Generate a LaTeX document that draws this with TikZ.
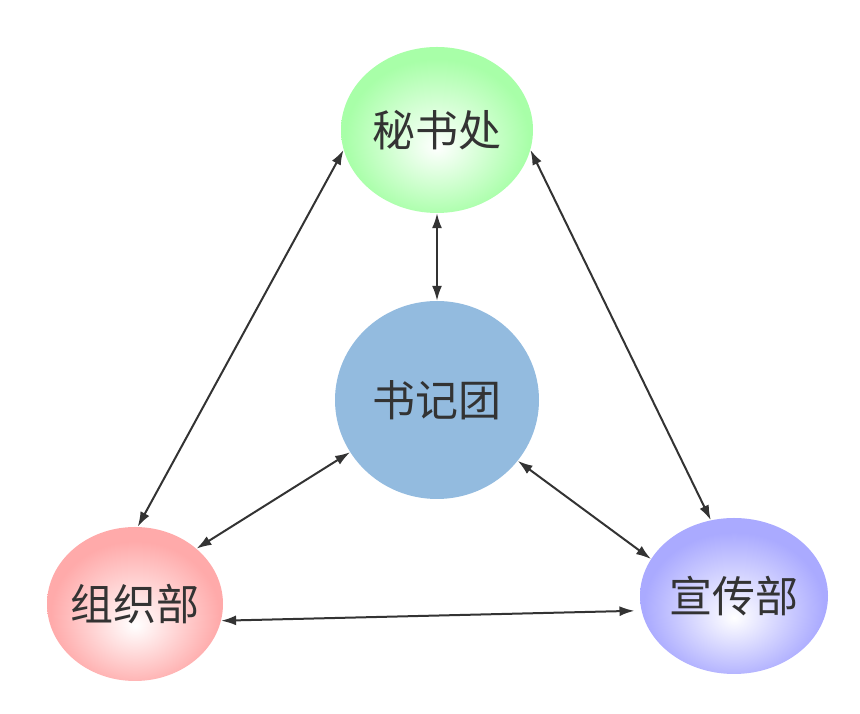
\documentclass[tikz,border=0pt]{standalone}
\usepackage{fontspec}
\newfontfamily\cjk{Noto Sans CJK SC}
\usetikzlibrary{shapes.geometric,arrows.meta}
\definecolor{txt}{HTML}{333333}
\definecolor{gedge}{HTML}{A8FFA8}
\definecolor{redge}{HTML}{FFAAAA}
\definecolor{bedge}{HTML}{AAAAFF}
\definecolor{jblue}{HTML}{93BBDF}
\pgfdeclareradialshading{gshade}{\pgfpoint{0bp}{-5bp}}{color(0bp)=(white); color(24bp)=(gedge); color(50bp)=(gedge)}
\pgfdeclareradialshading{rshade}{\pgfpoint{0bp}{-7bp}}{color(0bp)=(white); color(24bp)=(redge); color(50bp)=(redge)}
\pgfdeclareradialshading{bshade}{\pgfpoint{0bp}{-7bp}}{color(0bp)=(white); color(24bp)=(bedge); color(50bp)=(bedge)}
\newcommand\dlabel[1]{\makebox[0pt]{#1}}
\tikzset{
  dept/.style={ellipse, inner sep=0pt, text=txt, font=\cjk\fontsize{43}{45}\selectfont},
  link/.style={{Latex[length=15pt,width=10pt]}-{Latex[length=15pt,width=10pt]}, draw=txt, line width=2pt}
}
\begin{document}
\begin{tikzpicture}[x=1pt,y=1pt]
\useasboundingbox (0,0) rectangle (860,714);
\node[dept, shading=gshade, minimum width=192pt, minimum height=166pt] (S) at (437,584) {\dlabel{秘书处}};
\node[dept, fill=jblue, minimum width=204pt, minimum height=198pt] (J) at (437,314) {\dlabel{书记团}};
\node[dept, shading=rshade, minimum width=176pt, minimum height=154pt] (Z) at (135,110) {\dlabel{组织部}};
\node[dept, shading=bshade, minimum width=188pt, minimum height=156pt] (X) at (734,118) {\dlabel{宣传部}};
\draw[link] (S.270) -- (J.90);
\draw[link] (S.192) -- (Z.88);
\draw[link] (S.-12) -- (X.107);
\draw[link] (J.211) -- (Z.42);
\draw[link] (J.-37) -- (X.156);
\draw[link, shorten >=7pt] (Z.-11) -- (X.189);
\end{tikzpicture}
\end{document}
